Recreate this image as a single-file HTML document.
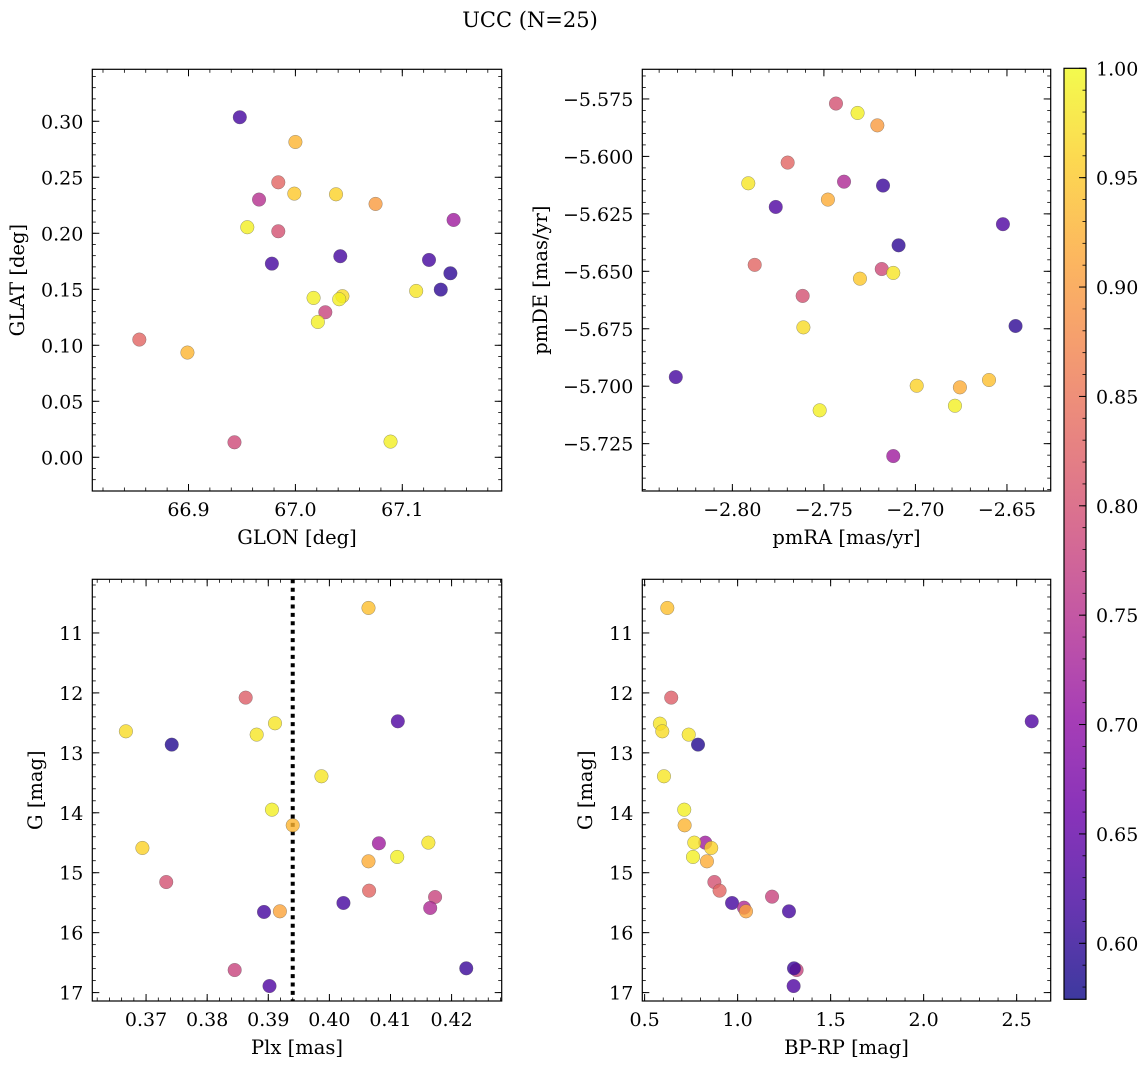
<!DOCTYPE html>
<html><head><meta charset="utf-8">
<style>
html,body{margin:0;padding:0;background:#fff;}
svg{display:block;font-family:"DejaVu Serif","Liberation Serif",serif;}
</style></head>
<body>
<svg id="fig" width="1148" height="1068" viewBox="0 0 1148 1068" xmlns="http://www.w3.org/2000/svg">
<defs>
<linearGradient id="cbgrad" x1="0" y1="1" x2="0" y2="0"></linearGradient>
</defs>
<text x="530" y="27" font-size="21" text-anchor="middle">UCC (N=25)</text>
</svg>
<script>
// ---- data: panel 1 (GLON / GLAT) ----
const glon = [66.948,67.000,66.984,66.966,66.999,67.038,67.075,67.148,66.955,66.984,67.042,66.978,67.125,67.145,67.136,67.017,67.044,67.041,67.113,67.028,67.021,66.854,66.899,66.943,67.089];
const glat = [0.3036,0.2815,0.2455,0.2301,0.2354,0.2348,0.2262,0.2119,0.2054,0.2018,0.1795,0.1729,0.1762,0.1643,0.1497,0.1423,0.1438,0.1411,0.1485,0.1295,0.1208,0.1051,0.0935,0.0134,0.0140];
const prob1 = [0.62,0.93,0.83,0.75,0.95,0.96,0.90,0.72,0.99,0.80,0.62,0.62,0.62,0.60,0.60,0.99,0.97,0.99,0.98,0.78,0.99,0.83,0.93,0.79,0.99];
// ---- data: panel 2 (pmRA / pmDE) ----
const pmra = [-2.7434,-2.7316,-2.7208,-2.7698,-2.7913,-2.7390,-2.7177,-2.7478,-2.7763,-2.6522,-2.7092,-2.7878,-2.7184,-2.7121,-2.7303,-2.7616,-2.7612,-2.6453,-2.8309,-2.6993,-2.6757,-2.6598,-2.6784,-2.7523,-2.7121];
const pmde = [-5.5770,-5.5811,-5.5865,-5.6027,-5.6117,-5.6110,-5.6127,-5.6188,-5.6220,-5.6295,-5.6387,-5.6472,-5.6490,-5.6507,-5.6532,-5.6607,-5.6744,-5.6738,-5.6960,-5.6998,-5.7005,-5.6973,-5.7085,-5.7105,-5.7304];
const prob2 = [0.80,0.99,0.90,0.83,0.98,0.74,0.61,0.92,0.63,0.63,0.60,0.83,0.79,0.98,0.95,0.80,0.97,0.60,0.62,0.96,0.92,0.94,0.99,0.99,0.72];
// ---- data: panel 3 (Plx / G) ----
const plx = [0.4064,0.3863,0.4112,0.3911,0.3667,0.3881,0.3742,0.3987,0.3906,0.3940,0.4081,0.4162,0.3694,0.4111,0.4064,0.3733,0.4065,0.4173,0.4023,0.4165,0.3893,0.3919,0.3845,0.3902,0.4224];
const gmag3 = [10.583,12.079,12.474,12.507,12.641,12.696,12.863,13.391,13.948,14.209,14.509,14.498,14.587,14.737,14.810,15.155,15.299,15.405,15.505,15.588,15.655,15.644,16.623,16.890,16.595];
const prob3 = [0.94,0.82,0.63,0.98,0.97,0.98,0.59,0.98,0.99,0.93,0.72,0.98,0.96,0.99,0.92,0.80,0.83,0.78,0.62,0.74,0.62,0.91,0.78,0.63,0.61];
const plxRef = [0.3940];
// ---- data: panel 4 (BP-RP / G) ----
const bprp = [0.622,0.643,2.581,0.582,0.595,0.737,0.787,0.604,0.713,0.715,0.826,0.767,0.858,0.760,0.835,0.875,0.903,1.185,0.970,1.034,1.276,1.045,1.317,1.301,1.303];
const gmag4 = [10.583,12.079,12.474,12.513,12.641,12.696,12.863,13.391,13.948,14.209,14.498,14.498,14.587,14.737,14.810,15.155,15.299,15.399,15.505,15.583,15.644,15.644,16.623,16.890,16.595];
const prob4 = [0.94,0.82,0.63,0.98,0.97,0.98,0.59,0.98,0.99,0.93,0.72,0.98,0.96,0.99,0.92,0.80,0.83,0.78,0.62,0.74,0.62,0.91,0.78,0.63,0.61];
// ---- tick labels ----
const p1xTicks = [66.9,67.0,67.1];
const p1yTicks = [0.00,0.05,0.10,0.15,0.20,0.25,0.30];
const p2xTicks = [-2.80,-2.75,-2.70,-2.65];
const p2yTicks = [-5.575,-5.600,-5.625,-5.650,-5.675,-5.700,-5.725];
const p3xTicks = [0.37,0.38,0.39,0.40,0.41,0.42];
const gTicks = [11,12,13,14,15,16,17];
const p4xTicks = [0.5,1.0,1.5,2.0,2.5];
const cbTicks = [0.60,0.65,0.70,0.75,0.80,0.85,0.90,0.95,1.00];

const NS='http://www.w3.org/2000/svg';
const svg=document.getElementById('fig');
const VMIN=0.5744, VMAX=1.0;
const TF=19, LF=19.5;
const plasma=['#0d0887','#41049d','#6a00a8','#8f0da4','#b12a90','#cc4778','#e16462','#f2844b','#fca636','#fcce25','#f0f921'];
function hex(h){return [parseInt(h.substr(1,2),16),parseInt(h.substr(3,2),16),parseInt(h.substr(5,2),16)];}
function cmap(t){t=Math.max(0,Math.min(1,t));const s=t*10,i=Math.min(9,Math.floor(s)),f=s-i;const a=hex(plasma[i]),b=hex(plasma[i+1]);
 return 'rgb('+a.map((v,k)=>Math.round(v+(b[k]-v)*f)).join(',')+')';}
function col(v){return cmap((v-VMIN)/(VMAX-VMIN));}
function el(tag,attrs,parent){const e=document.createElementNS(NS,tag);for(const k in attrs)e.setAttribute(k,attrs[k]);(parent||svg).appendChild(e);return e;}
function fmt(v,d){return (v<0?'\u2212':'')+Math.abs(v).toFixed(d);}

function panel(o){
 const g=el('g',{});
 
 
 const sx=v=>o.x0+(v-o.xmin)/(o.xmax-o.xmin)*(o.x1-o.x0);
 const sy=o.invert? v=>o.y0+(v-o.ymin)/(o.ymax-o.ymin)*(o.y1-o.y0) : v=>o.y1-(v-o.ymin)/(o.ymax-o.ymin)*(o.y1-o.y0);
 const mt=el('g',{stroke:'#000','stroke-width':0.8},g);
 
 
 for(let v=Math.ceil(o.xmin/o.xminor)*o.xminor; v<=o.xmax; v+=o.xminor){const X=sx(v);
  el('line',{x1:X,x2:X,y1:o.y1,y2:o.y1-3.5},mt);el('line',{x1:X,x2:X,y1:o.y0,y2:o.y0+3.5},mt);}
 const ylo=Math.min(o.ymin,o.ymax), yhi=Math.max(o.ymin,o.ymax);
 for(let v=Math.ceil(ylo/o.yminor)*o.yminor; v<=yhi; v+=o.yminor){const Y=sy(v);
  el('line',{x1:o.x0,x2:o.x0+3.5,y1:Y,y2:Y},mt);el('line',{x1:o.x1,x2:o.x1-3.5,y1:Y,y2:Y},mt);}
 o.xt.forEach(v=>{const X=sx(v);
  el('line',{x1:X,x2:X,y1:o.y1,y2:o.y1-7,stroke:'#000','stroke-width':1},g);
  el('line',{x1:X,x2:X,y1:o.y0,y2:o.y0+7,stroke:'#000','stroke-width':1},g);
  const t=el('text',{x:X,y:o.y1+25,'font-size':TF,'text-anchor':'middle'},g);t.textContent=fmt(v,o.xd);
  
  });
 o.yt.forEach(v=>{const Y=sy(v);
  el('line',{x1:o.x0,x2:o.x0+7,y1:Y,y2:Y,stroke:'#000','stroke-width':1},g);
  el('line',{x1:o.x1,x2:o.x1-7,y1:Y,y2:Y,stroke:'#000','stroke-width':1},g);
  const t=el('text',{x:o.x0-9,y:Y+7,'font-size':TF,'text-anchor':'end'},g);t.textContent=fmt(v,o.yd);
  
  });
 if(o.vline){o.vline.forEach(v=>{const l=el('line',{x1:sx(v),x2:sx(v),y1:o.y0,y2:o.y1,stroke:'#000','stroke-width':4,'stroke-dasharray':'4 4.4'},g);
  
  });}
 o.xs.forEach((v,i)=>{const c=el('circle',{cx:sx(v),cy:sy(o.ys[i]),r:6.8,fill:col(o.cs[i]),'fill-opacity':0.8,stroke:'#555','stroke-opacity':0.6,'stroke-width':0.5},g);
  
  });
 const f=el('rect',{x:o.x0,y:o.y0,width:o.x1-o.x0,height:o.y1-o.y0,fill:'none',stroke:'#000','stroke-width':1.2},g);
 
 
 const xl=el('text',{x:(o.x0+o.x1)/2,y:o.y1+53,'font-size':LF,'text-anchor':'middle'},g);xl.textContent=o.xlabel;
 
 
 const yx=o.ylx, yy=(o.y0+o.y1)/2;
 const yl=el('text',{x:yx,y:yy,'font-size':LF,'text-anchor':'middle',transform:'rotate(-90 '+yx+' '+yy+')'},g);yl.textContent=o.ylabel;
 
 
}
panel({name:'glon-glat-panel',x0:92.3,x1:501.7,y0:69.3,y1:491,xmin:66.810,xmax:67.193,ymin:-0.0301,ymax:0.3464,
 xt:p1xTicks,yt:p1yTicks,xd:1,yd:2,xminor:0.02,yminor:0.01,xs:glon,ys:glat,cs:prob1,xlabel:'GLON [deg]',ylabel:'GLAT [deg]',ylx:24});
panel({name:'pm-panel',x0:642.3,x1:1050.7,y0:69.3,y1:491,xmin:-2.8492,xmax:-2.6261,ymin:-5.7456,ymax:-5.5621,
 xt:p2xTicks,yt:p2yTicks,xd:2,yd:3,xminor:0.01,yminor:0.005,xs:pmra,ys:pmde,cs:prob2,xlabel:'pmRA [mas/yr]',ylabel:'pmDE [mas/yr]',ylx:547});
panel({name:'plx-g-panel',x0:92.3,x1:501.7,y0:579.3,y1:1001,xmin:0.3612,xmax:0.4282,ymin:10.105,ymax:17.14,invert:true,
 xt:p3xTicks,yt:gTicks,xd:2,yd:0,xminor:0.002,yminor:0.2,xs:plx,ys:gmag3,cs:prob3,vline:plxRef,xlabel:'Plx [mas]',ylabel:'G [mag]',ylx:42});
panel({name:'cmd-panel',x0:642.3,x1:1050.7,y0:579.3,y1:1001,xmin:0.4875,xmax:2.683,ymin:10.105,ymax:17.14,invert:true,
 xt:p4xTicks,yt:gTicks,xd:1,yd:0,xminor:0.1,yminor:0.2,xs:bprp,ys:gmag4,cs:prob4,xlabel:'BP-RP [mag]',ylabel:'G [mag]',ylx:592});

const grad=document.getElementById('cbgrad');
for(let i=0;i<=20;i++){el('stop',{offset:(i/20),'stop-color':cmap(i/20),'stop-opacity':0.8},grad);}
const cb=el('g',{});


const CX0=1064,CX1=1086,CY0=68.3,CY1=999.3;
const cy=v=>CY1-(v-VMIN)/(VMAX-VMIN)*(CY1-CY0);
el('rect',{x:CX0,y:CY0,width:CX1-CX0,height:CY1-CY0,fill:'url(#cbgrad)'},cb);
for(let v=0.58;v<=1.0001;v+=0.01){const Y=cy(v);el('line',{x1:CX1,x2:CX1-3.5,y1:Y,y2:Y,stroke:'#000','stroke-width':0.8},cb);}
cbTicks.forEach(v=>{const Y=cy(v);el('line',{x1:CX1,x2:CX1-7,y1:Y,y2:Y,stroke:'#000','stroke-width':1},cb);
 const t=el('text',{x:CX1+10,y:Y+7,'font-size':TF},cb);t.textContent=v.toFixed(2);
 
 });
el('rect',{x:CX0,y:CY0,width:CX1-CX0,height:CY1-CY0,fill:'none',stroke:'#000','stroke-width':1.2},cb);
</script>
</body></html>
